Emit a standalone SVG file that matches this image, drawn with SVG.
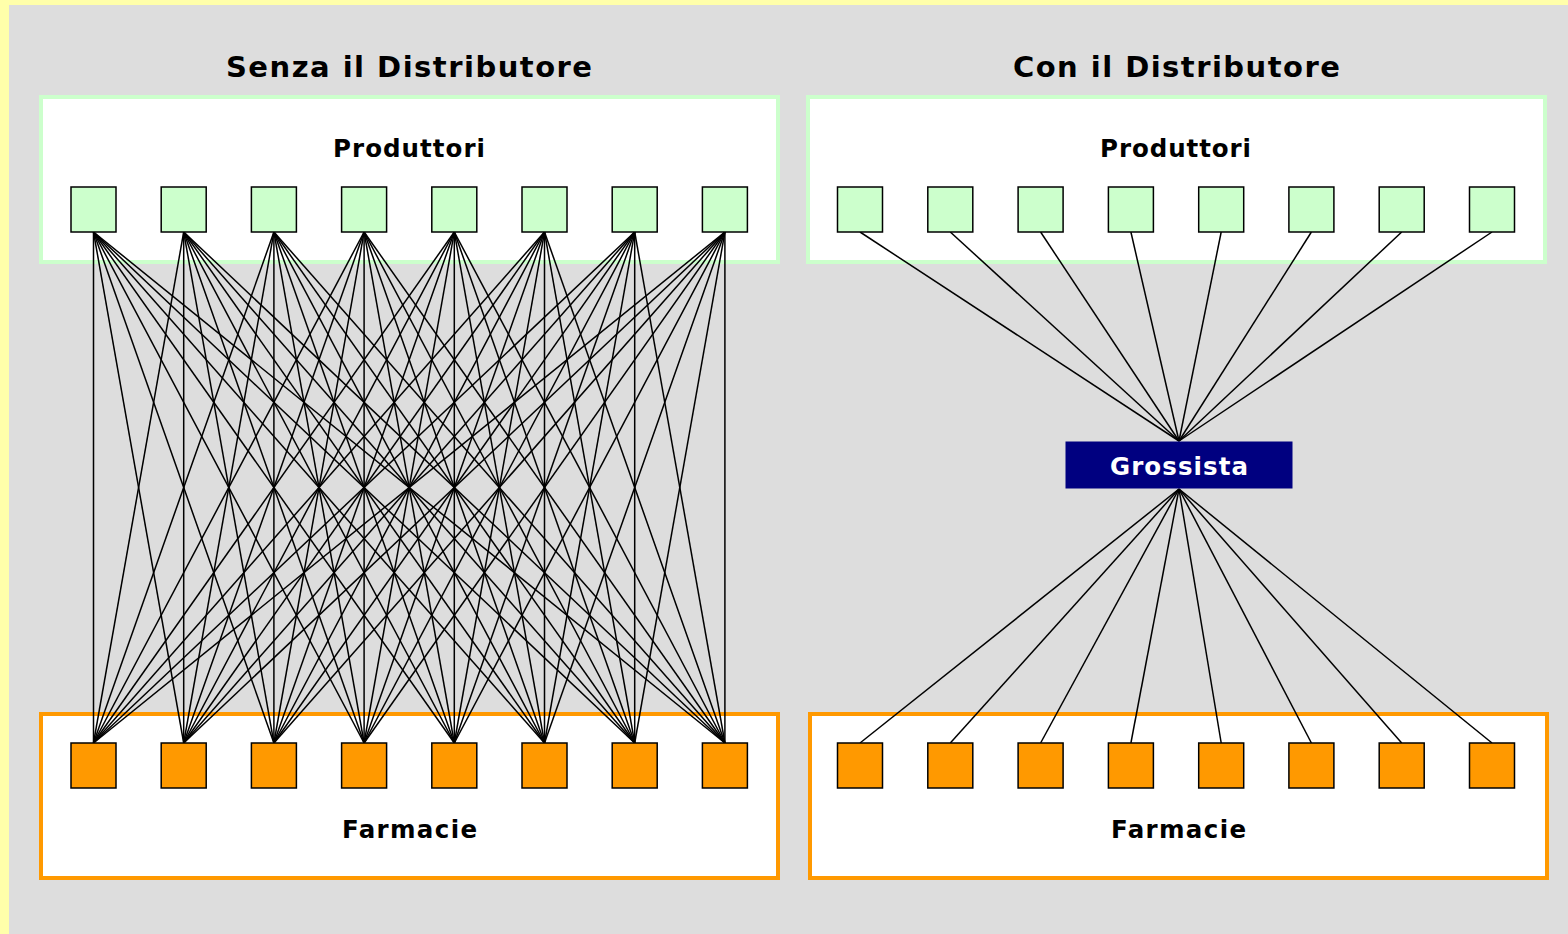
<svg xmlns="http://www.w3.org/2000/svg" width="1568" height="934" viewBox="0 0 1568 934">
<style>
.t{font-family:"DejaVu Sans",Verdana,sans-serif;font-weight:bold;text-anchor:middle;fill:#000}
.h{font-size:29px}
.l{font-size:24.5px}
.gb{fill:#fff;stroke:#ccffcc;stroke-width:4}
.ob{fill:#fff;stroke:#ff9900;stroke-width:4}
.p{fill:#ccffcc;stroke:#000;stroke-width:1.5}
.f{fill:#ff9900;stroke:#000;stroke-width:1.5}
.c line{stroke:#000;stroke-width:1.5}
</style>
<rect x="0" y="0" width="1568" height="934" fill="#ffffaa"/>
<rect x="9" y="5" width="1559" height="929" fill="#dddddd"/>
<text class="t h" x="409" y="77" textLength="366" lengthAdjust="spacing">Senza il Distributore</text>
<text class="t h" x="1176.4" y="77" textLength="327" lengthAdjust="spacing">Con il Distributore</text>
<g id="left-produttori"><rect class="gb" x="41" y="97" width="737" height="165"/><text class="t l" x="409" y="157" textLength="152" lengthAdjust="spacing">Produttori</text></g>
<g id="left-farmacie"><rect class="ob" x="41" y="714" width="737" height="164"/><text class="t l" x="409.5" y="837.5" textLength="135" lengthAdjust="spacing">Farmacie</text></g>
<g id="right-produttori"><rect class="gb" x="808" y="97" width="737" height="165"/><text class="t l" x="1175.5" y="157" textLength="151" lengthAdjust="spacing">Produttori</text></g>
<g id="right-farmacie"><rect class="ob" x="810" y="714" width="737" height="164"/><text class="t l" x="1178.5" y="837.5" textLength="135" lengthAdjust="spacing">Farmacie</text></g>
<g id="connectors" class="c">
<line x1="93.5" y1="232" x2="93.5" y2="743"/><line x1="93.5" y1="232" x2="183.7" y2="743"/><line x1="93.5" y1="232" x2="273.9" y2="743"/><line x1="93.5" y1="232" x2="364.1" y2="743"/><line x1="93.5" y1="232" x2="454.3" y2="743"/><line x1="93.5" y1="232" x2="544.5" y2="743"/><line x1="93.5" y1="232" x2="634.7" y2="743"/><line x1="93.5" y1="232" x2="724.9" y2="743"/>
<line x1="183.7" y1="232" x2="93.5" y2="743"/><line x1="183.7" y1="232" x2="183.7" y2="743"/><line x1="183.7" y1="232" x2="273.9" y2="743"/><line x1="183.7" y1="232" x2="364.1" y2="743"/><line x1="183.7" y1="232" x2="454.3" y2="743"/><line x1="183.7" y1="232" x2="544.5" y2="743"/><line x1="183.7" y1="232" x2="634.7" y2="743"/><line x1="183.7" y1="232" x2="724.9" y2="743"/>
<line x1="273.9" y1="232" x2="93.5" y2="743"/><line x1="273.9" y1="232" x2="183.7" y2="743"/><line x1="273.9" y1="232" x2="273.9" y2="743"/><line x1="273.9" y1="232" x2="364.1" y2="743"/><line x1="273.9" y1="232" x2="454.3" y2="743"/><line x1="273.9" y1="232" x2="544.5" y2="743"/><line x1="273.9" y1="232" x2="634.7" y2="743"/><line x1="273.9" y1="232" x2="724.9" y2="743"/>
<line x1="364.1" y1="232" x2="93.5" y2="743"/><line x1="364.1" y1="232" x2="183.7" y2="743"/><line x1="364.1" y1="232" x2="273.9" y2="743"/><line x1="364.1" y1="232" x2="364.1" y2="743"/><line x1="364.1" y1="232" x2="454.3" y2="743"/><line x1="364.1" y1="232" x2="544.5" y2="743"/><line x1="364.1" y1="232" x2="634.7" y2="743"/><line x1="364.1" y1="232" x2="724.9" y2="743"/>
<line x1="454.3" y1="232" x2="93.5" y2="743"/><line x1="454.3" y1="232" x2="183.7" y2="743"/><line x1="454.3" y1="232" x2="273.9" y2="743"/><line x1="454.3" y1="232" x2="364.1" y2="743"/><line x1="454.3" y1="232" x2="454.3" y2="743"/><line x1="454.3" y1="232" x2="544.5" y2="743"/><line x1="454.3" y1="232" x2="634.7" y2="743"/><line x1="454.3" y1="232" x2="724.9" y2="743"/>
<line x1="544.5" y1="232" x2="93.5" y2="743"/><line x1="544.5" y1="232" x2="183.7" y2="743"/><line x1="544.5" y1="232" x2="273.9" y2="743"/><line x1="544.5" y1="232" x2="364.1" y2="743"/><line x1="544.5" y1="232" x2="454.3" y2="743"/><line x1="544.5" y1="232" x2="544.5" y2="743"/><line x1="544.5" y1="232" x2="634.7" y2="743"/><line x1="544.5" y1="232" x2="724.9" y2="743"/>
<line x1="634.7" y1="232" x2="93.5" y2="743"/><line x1="634.7" y1="232" x2="183.7" y2="743"/><line x1="634.7" y1="232" x2="273.9" y2="743"/><line x1="634.7" y1="232" x2="364.1" y2="743"/><line x1="634.7" y1="232" x2="454.3" y2="743"/><line x1="634.7" y1="232" x2="544.5" y2="743"/><line x1="634.7" y1="232" x2="634.7" y2="743"/><line x1="634.7" y1="232" x2="724.9" y2="743"/>
<line x1="724.9" y1="232" x2="93.5" y2="743"/><line x1="724.9" y1="232" x2="183.7" y2="743"/><line x1="724.9" y1="232" x2="273.9" y2="743"/><line x1="724.9" y1="232" x2="364.1" y2="743"/><line x1="724.9" y1="232" x2="454.3" y2="743"/><line x1="724.9" y1="232" x2="544.5" y2="743"/><line x1="724.9" y1="232" x2="634.7" y2="743"/><line x1="724.9" y1="232" x2="724.9" y2="743"/>
<line x1="860" y1="232" x2="1179" y2="441"/><line x1="950.3" y1="232" x2="1179" y2="441"/><line x1="1040.6" y1="232" x2="1179" y2="441"/><line x1="1130.9" y1="232" x2="1179" y2="441"/><line x1="1221.2" y1="232" x2="1179" y2="441"/><line x1="1311.4" y1="232" x2="1179" y2="441"/><line x1="1401.7" y1="232" x2="1179" y2="441"/><line x1="1492" y1="232" x2="1179" y2="441"/>
<line x1="1179" y1="489" x2="860" y2="743"/><line x1="1179" y1="489" x2="950.3" y2="743"/><line x1="1179" y1="489" x2="1040.6" y2="743"/><line x1="1179" y1="489" x2="1130.9" y2="743"/><line x1="1179" y1="489" x2="1221.2" y2="743"/><line x1="1179" y1="489" x2="1311.4" y2="743"/><line x1="1179" y1="489" x2="1401.7" y2="743"/><line x1="1179" y1="489" x2="1492" y2="743"/>
</g>
<g id="left-producers">
<rect id="lp1" class="p" x="71" y="187" width="45" height="45"/><rect id="lp2" class="p" x="161.2" y="187" width="45" height="45"/><rect id="lp3" class="p" x="251.4" y="187" width="45" height="45"/><rect id="lp4" class="p" x="341.6" y="187" width="45" height="45"/><rect id="lp5" class="p" x="431.8" y="187" width="45" height="45"/><rect id="lp6" class="p" x="522" y="187" width="45" height="45"/><rect id="lp7" class="p" x="612.2" y="187" width="45" height="45"/><rect id="lp8" class="p" x="702.4" y="187" width="45" height="45"/>
</g>
<g id="left-pharmacies">
<rect id="lf1" class="f" x="71" y="743" width="45" height="45"/><rect id="lf2" class="f" x="161.2" y="743" width="45" height="45"/><rect id="lf3" class="f" x="251.4" y="743" width="45" height="45"/><rect id="lf4" class="f" x="341.6" y="743" width="45" height="45"/><rect id="lf5" class="f" x="431.8" y="743" width="45" height="45"/><rect id="lf6" class="f" x="522" y="743" width="45" height="45"/><rect id="lf7" class="f" x="612.2" y="743" width="45" height="45"/><rect id="lf8" class="f" x="702.4" y="743" width="45" height="45"/>
</g>
<g id="right-producers">
<rect id="rp1" class="p" x="837.5" y="187" width="45" height="45"/><rect id="rp2" class="p" x="927.8" y="187" width="45" height="45"/><rect id="rp3" class="p" x="1018.1" y="187" width="45" height="45"/><rect id="rp4" class="p" x="1108.4" y="187" width="45" height="45"/><rect id="rp5" class="p" x="1198.7" y="187" width="45" height="45"/><rect id="rp6" class="p" x="1288.9" y="187" width="45" height="45"/><rect id="rp7" class="p" x="1379.2" y="187" width="45" height="45"/><rect id="rp8" class="p" x="1469.5" y="187" width="45" height="45"/>
</g>
<g id="right-pharmacies">
<rect id="rf1" class="f" x="837.5" y="743" width="45" height="45"/><rect id="rf2" class="f" x="927.8" y="743" width="45" height="45"/><rect id="rf3" class="f" x="1018.1" y="743" width="45" height="45"/><rect id="rf4" class="f" x="1108.4" y="743" width="45" height="45"/><rect id="rf5" class="f" x="1198.7" y="743" width="45" height="45"/><rect id="rf6" class="f" x="1288.9" y="743" width="45" height="45"/><rect id="rf7" class="f" x="1379.2" y="743" width="45" height="45"/><rect id="rf8" class="f" x="1469.5" y="743" width="45" height="45"/>
</g>
<g id="grossista">
<rect x="1065.5" y="441.5" width="227" height="47" fill="#000080"/>
<text class="t l" x="1179" y="475" textLength="138" lengthAdjust="spacing" style="fill:#fff">Grossista</text>
</g>
</svg>
